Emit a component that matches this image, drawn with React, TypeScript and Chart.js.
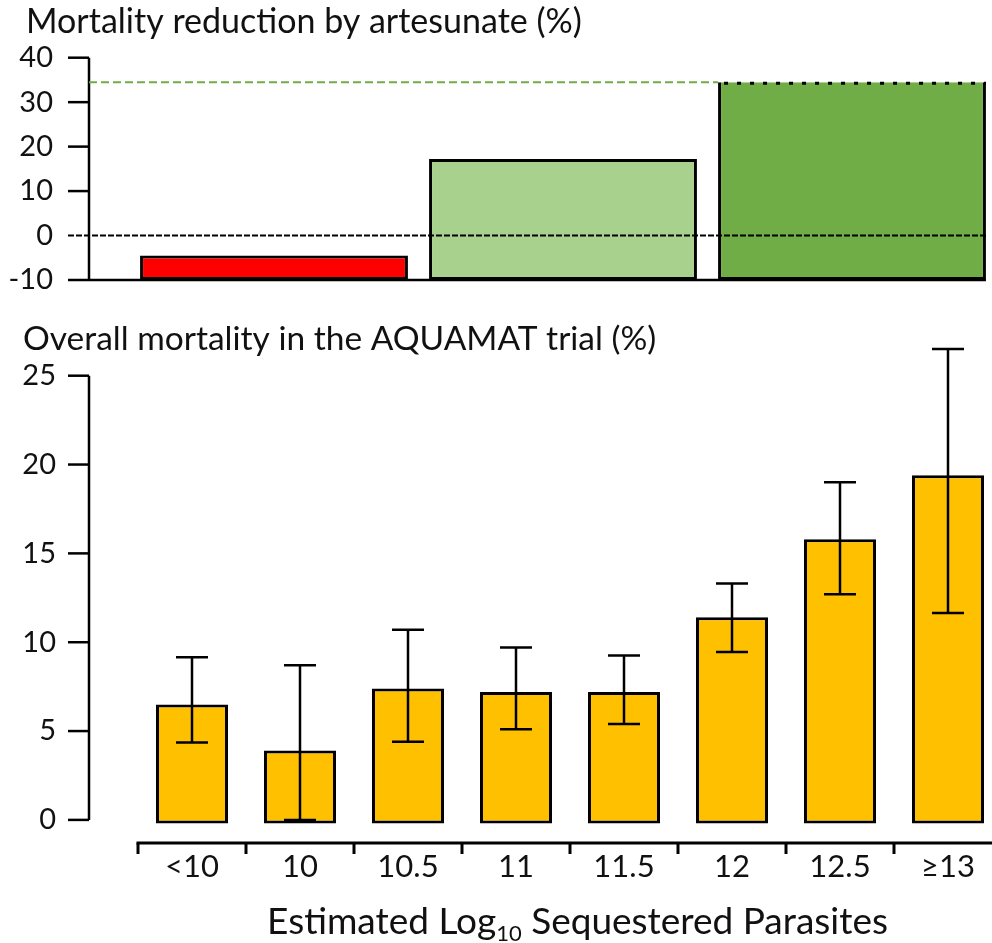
import React, { useEffect, useRef } from 'react';
import { Chart, registerables } from 'chart.js';
Chart.register(...registerables);

// ---------- data ----------
const TOP_CATEGORIES = ['low', 'middle', 'high'];
const TOP_REDUCTION = [-4.5, 17.2, 34.5];
const TOP_BASE = -10;
const TOP_TICKS = [-10, 0, 10, 20, 30, 40];
const TOP_TITLE = 'Mortality reduction by artesunate (%)';

const BOTTOM_CATEGORIES = ['<10', '10', '10.5', '11', '11.5', '12', '12.5', '≥13'];
const MORTALITY = [6.5, 3.9, 7.4, 7.2, 7.2, 11.4, 15.8, 19.4];
const CI_LOW = [4.35, 0, 4.4, 5.1, 5.4, 9.45, 12.7, 11.65];
const CI_HIGH = [9.15, 8.7, 10.7, 9.7, 9.25, 13.3, 19.0, 26.5];
const BOTTOM_TICKS = [0, 5, 10, 15, 20, 25];
const BOTTOM_TITLE = 'Overall mortality in the AQUAMAT trial (%)';
const X_TITLE_A = 'Estimated Log';
const X_TITLE_SUB = '10';
const X_TITLE_B = ' Sequestered Parasites';

// ---------- styles ----------
const FONT = 'Lato';
const TEXT = '#111';
const TOP_COLORS = ['#FF0000', '#A9D18E', '#70AD47'];
const ORANGE = '#FFC000';
const AXIS_X = 89;
const TICK_LEN = 21;

function TopChart() {
  const ref = useRef<HTMLCanvasElement>(null);
  useEffect(() => {
    const decor = {
      id: 'topDecor',
      afterDatasetsDraw(chart: any) {
        const { ctx } = chart;
        const y = chart.scales.y;
        const meta = chart.getDatasetMeta(0);
        const last = meta.data[meta.data.length - 1];
        const rightEdge = last.x + last.width / 2;
        const lastLeft = last.x - last.width / 2;
        ctx.save();
        ctx.strokeStyle = '#000';
        ctx.lineWidth = 2.5;
        ctx.setLineDash([]);
        // y axis
        ctx.beginPath();
        ctx.moveTo(AXIS_X, y.getPixelForValue(TOP_TICKS[TOP_TICKS.length - 1]));
        ctx.lineTo(AXIS_X, y.getPixelForValue(TOP_TICKS[0]));
        ctx.stroke();
        TOP_TICKS.forEach((v) => {
          if (v === 0) return;
          const py = y.getPixelForValue(v);
          ctx.beginPath();
          ctx.moveTo(AXIS_X - TICK_LEN, py);
          ctx.lineTo(v === TOP_BASE ? rightEdge : AXIS_X, py);
          ctx.stroke();
        });
        // zero line
        const py0 = y.getPixelForValue(0);
        ctx.lineWidth = 2;
        ctx.setLineDash([6, 2]);
        ctx.beginPath();
        ctx.moveTo(AXIS_X - TICK_LEN, py0);
        ctx.lineTo(rightEdge, py0);
        ctx.stroke();
        // reference dashed green line
        const pyRef = y.getPixelForValue(TOP_REDUCTION[TOP_REDUCTION.length - 1]);
        ctx.strokeStyle = '#70AD47';
        ctx.setLineDash([8, 4]);
        ctx.beginPath();
        ctx.moveTo(AXIS_X, pyRef);
        ctx.lineTo(lastLeft, pyRef);
        ctx.stroke();
        // dotted top of the last bar
        ctx.strokeStyle = '#000';
        ctx.lineWidth = 3;
        ctx.setLineDash([4, 9]);
        ctx.beginPath();
        ctx.moveTo(lastLeft + 6, pyRef + 1);
        ctx.lineTo(rightEdge, pyRef + 1);
        ctx.stroke();
        ctx.restore();
      },
      afterDraw(chart: any) {
        const { ctx } = chart;
        ctx.save();
        ctx.fillStyle = TEXT;
        ctx.font = `34px ${FONT}`;
        ctx.textBaseline = 'alphabetic';
        ctx.textAlign = 'left';
        ctx.fillText(TOP_TITLE, 26, 33);
        ctx.restore();
      },
    };
    const chart = new Chart(ref.current!, {
      type: 'bar',
      data: {
        labels: TOP_CATEGORIES,
        datasets: [
          {
            data: TOP_REDUCTION,
            base: TOP_BASE,
            backgroundColor: TOP_COLORS,
            borderColor: '#000',
            borderWidth: 3,
            borderSkipped: [false, false, 'top'] as any,
            categoryPercentage: 1,
            barPercentage: 0.927,
          } as any,
        ],
      },
      options: {
        responsive: false,
        animation: false,
        events: [],
        layout: { padding: { top: 57.7, right: 13.5, bottom: 20, left: 0 } },
        plugins: { legend: { display: false }, tooltip: { enabled: false }, title: { display: false } },
        scales: {
          x: { display: false },
          y: {
            min: -10,
            max: 40,
            grid: { display: false, drawTicks: false },
            border: { display: false },
            afterBuildTicks: (s: any) => {
              s.ticks = TOP_TICKS.map((v) => ({ value: v }));
            },
            afterFit: (s: any) => {
              s.width = 129.5;
              s.paddingTop = 0;
              s.paddingBottom = 0;
            },
            ticks: { font: { family: FONT, size: 29 }, color: TEXT, padding: 76.5 },
          },
        },
      },
      plugins: [decor],
    });
    return () => chart.destroy();
  }, []);
  return <canvas ref={ref} width={1010} height={300} style={{ position: 'absolute', left: 0, top: 0 }} />;
}

function BottomChart() {
  const ref = useRef<HTMLCanvasElement>(null);
  useEffect(() => {
    const decor = {
      id: 'bottomDecor',
      afterDatasetsDraw(chart: any) {
        const { ctx, chartArea } = chart;
        const y = chart.scales.y;
        const x = chart.scales.x;
        ctx.save();
        ctx.strokeStyle = '#000';
        ctx.setLineDash([]);
        ctx.lineWidth = 2.5;
        // y axis
        ctx.beginPath();
        ctx.moveTo(AXIS_X, y.getPixelForValue(BOTTOM_TICKS[BOTTOM_TICKS.length - 1]));
        ctx.lineTo(AXIS_X, y.getPixelForValue(BOTTOM_TICKS[0]));
        ctx.stroke();
        BOTTOM_TICKS.forEach((v) => {
          const py = y.getPixelForValue(v);
          ctx.beginPath();
          ctx.moveTo(AXIS_X - TICK_LEN, py);
          ctx.lineTo(AXIS_X, py);
          ctx.stroke();
        });
        // x axis
        ctx.lineWidth = 3;
        const catW = x.getPixelForValue(1) - x.getPixelForValue(0);
        const left = x.getPixelForValue(0) - catW / 2;
        ctx.beginPath();
        ctx.moveTo(left - 1.5, chartArea.bottom);
        ctx.lineTo(chart.width, chartArea.bottom);
        ctx.stroke();
        BOTTOM_CATEGORIES.forEach((_, i) => {
          const px = x.getPixelForValue(i) - catW / 2;
          ctx.beginPath();
          ctx.moveTo(px, chartArea.bottom);
          ctx.lineTo(px, chartArea.bottom + 11);
          ctx.stroke();
        });
        // error bars
        ctx.lineWidth = 2.5;
        const meta = chart.getDatasetMeta(0);
        MORTALITY.forEach((_, i) => {
          const px = meta.data[i].x;
          const hi = y.getPixelForValue(CI_HIGH[i]);
          const lo = y.getPixelForValue(CI_LOW[i]);
          ctx.beginPath();
          ctx.moveTo(px, hi);
          ctx.lineTo(px, lo);
          ctx.moveTo(px - 16, hi);
          ctx.lineTo(px + 16, hi);
          ctx.moveTo(px - 16, lo);
          ctx.lineTo(px + 16, lo);
          ctx.stroke();
        });
        ctx.restore();
      },
      afterDraw(chart: any) {
        const { ctx } = chart;
        ctx.save();
        ctx.fillStyle = TEXT;
        ctx.textBaseline = 'alphabetic';
        ctx.textAlign = 'left';
        ctx.font = `33.5px ${FONT}`;
        ctx.fillText(BOTTOM_TITLE, 23, 50);
        // axis title with subscript
        const big = `37px ${FONT}`;
        const small = `22px ${FONT}`;
        ctx.font = big;
        const wA = ctx.measureText(X_TITLE_A).width;
        const wB = ctx.measureText(X_TITLE_B).width;
        ctx.font = small;
        const wS = ctx.measureText(X_TITLE_SUB).width;
        const total = wA + wS + wB;
        let sx = 577.5 - total / 2;
        const base = 634;
        ctx.font = big;
        ctx.fillText(X_TITLE_A, sx, base);
        sx += wA;
        ctx.font = small;
        ctx.fillText(X_TITLE_SUB, sx, base + 7);
        sx += wS;
        ctx.font = big;
        ctx.fillText(X_TITLE_B, sx, base);
        ctx.restore();
      },
    };
    const chart = new Chart(ref.current!, {
      type: 'bar',
      data: {
        labels: BOTTOM_CATEGORIES,
        datasets: [
          {
            data: MORTALITY,
            base: -0.2,
            backgroundColor: ORANGE,
            borderColor: '#000',
            borderWidth: 3,
            borderSkipped: false,
            categoryPercentage: 1,
            barPercentage: 0.667,
          } as any,
        ],
      },
      options: {
        responsive: false,
        animation: false,
        events: [],
        layout: { padding: { top: 75.7, right: 8, bottom: 40, left: 0 } },
        plugins: { legend: { display: false }, tooltip: { enabled: false }, title: { display: false } },
        scales: {
          x: {
            grid: { display: false, drawTicks: false },
            border: { display: false },
            afterFit: (s: any) => {
              s.height = 60;
              s.paddingLeft = 0;
              s.paddingRight = 0;
            },
            ticks: {
              font: { family: FONT, size: 31 },
              color: TEXT,
              padding: 5,
              maxRotation: 0,
              autoSkip: false,
            },
          },
          y: {
            min: -1.3,
            max: 25,
            grid: { display: false, drawTicks: false },
            border: { display: false },
            afterBuildTicks: (s: any) => {
              s.ticks = BOTTOM_TICKS.map((v) => ({ value: v }));
            },
            afterFit: (s: any) => {
              s.width = 138;
              s.paddingTop = 0;
              s.paddingBottom = 0;
            },
            ticks: { font: { family: FONT, size: 29 }, color: TEXT, padding: 82 },
          },
        },
      },
      plugins: [decor],
    });
    return () => chart.destroy();
  }, []);
  return <canvas ref={ref} width={1010} height={643} style={{ position: 'absolute', left: 0, top: 300 }} />;
}

export default function App() {
  return (
    <div
      style={{
        position: 'fixed',
        left: 0,
        top: 0,
        width: 992,
        height: 943,
        overflow: 'hidden',
        background: '#fff',
      }}
    >
      <TopChart />
      <BottomChart />
    </div>
  );
}
